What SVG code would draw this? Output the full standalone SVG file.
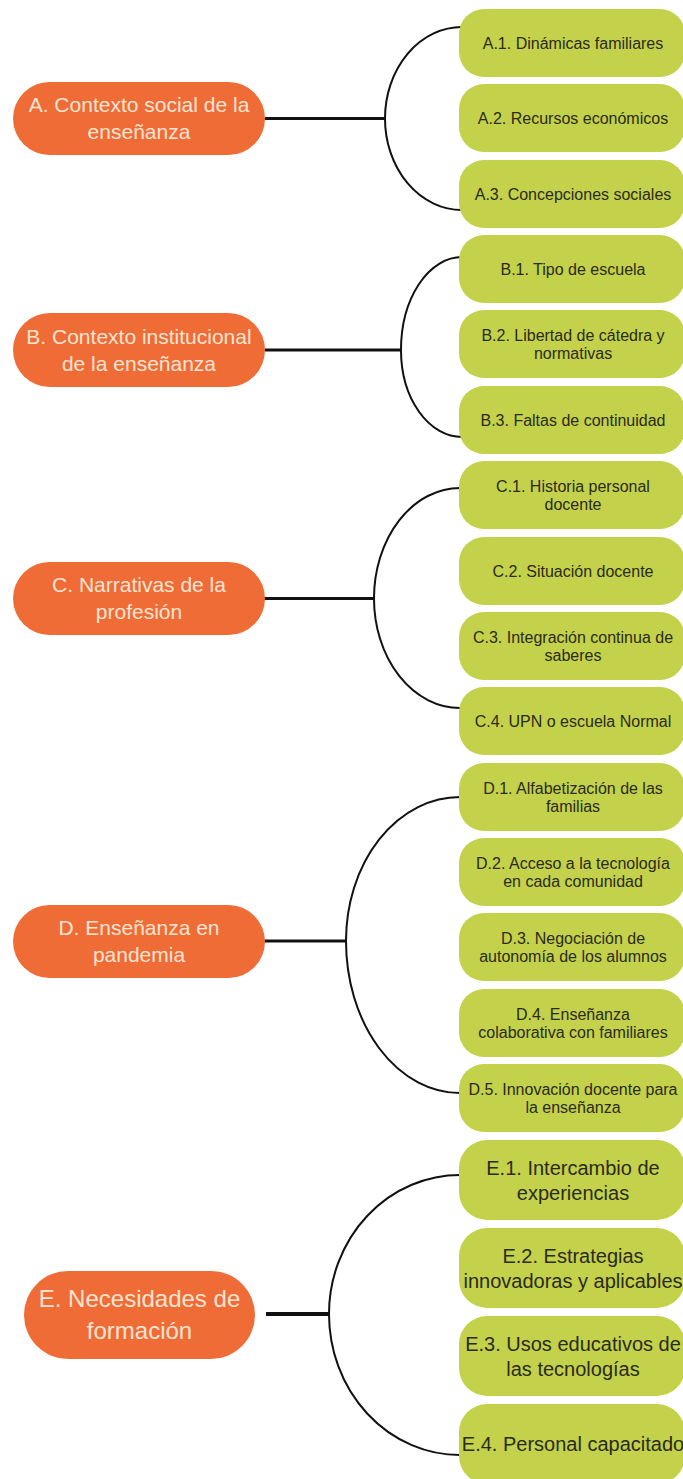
<svg xmlns="http://www.w3.org/2000/svg" width="683" height="1479" viewBox="0 0 683 1479">
<style>
.main rect{fill:#ef6c36}
.main text{fill:#fde4d3;font-family:"Liberation Sans",Arial,sans-serif;font-size:21px;text-anchor:middle}
.main.big text{font-size:24px}
.sub rect{fill:#c4d14a}
.sub text{fill:#2b2b1c;font-family:"Liberation Sans",Arial,sans-serif;font-size:16px;text-anchor:middle}
.sub.big text{font-size:20px}
.arc{fill:none;stroke:#111;stroke-width:2}
.bar{fill:none;stroke:#111;stroke-width:3}
</style>
<rect width="683" height="1479" fill="#ffffff"/>
<g id="connectors">
<path class="bar" d="M265 118.5H385"/>
<path class="arc" d="M462 27A77 91.5 0 0 0 385 118.5A77 91.5 0 0 0 462 210"/>
<path class="bar" d="M265 350H401"/>
<path class="arc" d="M462 257A61 93 0 0 0 401 350A61 87 0 0 0 462 437"/>
<path class="bar" d="M264 598.5H374"/>
<path class="arc" d="M460 488A86 110.5 0 0 0 374 598.5A86 109.5 0 0 0 460 708"/>
<path class="bar" d="M264 941H346"/>
<path class="arc" d="M460 797A114 144 0 0 0 346 941A114 152 0 0 0 460 1093"/>
<path class="bar" d="M266 1314H329" style="stroke-width:4"/>
<path class="arc" d="M460 1175A131 139 0 0 0 329 1314A131 141 0 0 0 460 1455"/>
</g>
<g id="A" class="main"><rect x="13" y="82" width="252" height="73" rx="36.5"/><text x="139" y="112.4">A. Contexto social de la</text><text x="139" y="139.4">enseñanza</text></g>
<g id="B" class="main"><rect x="13" y="313" width="252" height="74" rx="37"/><text x="139" y="343.9">B. Contexto institucional</text><text x="139" y="370.9">de la enseñanza</text></g>
<g id="C" class="main"><rect x="13" y="562" width="252" height="73" rx="36.5"/><text x="139" y="592.4">C. Narrativas de la</text><text x="139" y="619.4">profesión</text></g>
<g id="D" class="main"><rect x="13" y="905" width="252" height="73" rx="36.5"/><text x="139" y="935.4">D. Enseñanza en</text><text x="139" y="962.4">pandemia</text></g>
<g id="E" class="main big"><rect x="24" y="1271" width="231" height="88" rx="44"/><text x="139.5" y="1307.4">E. Necesidades de</text><text x="139.5" y="1339.4">formación</text></g>

<g id="A1" class="sub"><rect x="459" y="9" width="226" height="68" rx="25"/><text x="573" y="48.6">A.1. Dinámicas familiares</text></g>
<g id="A2" class="sub"><rect x="459" y="84" width="226" height="68" rx="25"/><text x="573" y="123.6">A.2. Recursos económicos</text></g>
<g id="A3" class="sub"><rect x="459" y="160" width="226" height="68" rx="25"/><text x="573" y="199.6">A.3. Concepciones sociales</text></g>
<g id="B1" class="sub"><rect x="459" y="235" width="226" height="68" rx="25"/><text x="573" y="274.6">B.1. Tipo de escuela</text></g>
<g id="B2" class="sub"><rect x="459" y="310" width="226" height="68" rx="25"/><text x="573" y="340.6">B.2. Libertad de cátedra y</text><text x="573" y="358.6">normativas</text></g>
<g id="B3" class="sub"><rect x="459" y="386" width="226" height="68" rx="25"/><text x="573" y="425.6">B.3. Faltas de continuidad</text></g>
<g id="C1" class="sub"><rect x="459" y="461" width="226" height="68" rx="25"/><text x="573" y="491.6">C.1. Historia personal</text><text x="573" y="509.6">docente</text></g>
<g id="C2" class="sub"><rect x="459" y="537" width="226" height="68" rx="25"/><text x="573" y="576.6">C.2. Situación docente</text></g>
<g id="C3" class="sub"><rect x="459" y="612" width="226" height="68" rx="25"/><text x="573" y="642.6">C.3. Integración continua de</text><text x="573" y="660.6">saberes</text></g>
<g id="C4" class="sub"><rect x="459" y="687" width="226" height="68" rx="25"/><text x="573" y="726.6">C.4. UPN o escuela Normal</text></g>
<g id="D1" class="sub"><rect x="459" y="763" width="226" height="68" rx="25"/><text x="573" y="793.6">D.1. Alfabetización de las</text><text x="573" y="811.6">familias</text></g>
<g id="D2" class="sub"><rect x="459" y="838" width="226" height="68" rx="25"/><text x="573" y="868.6">D.2. Acceso a la tecnología</text><text x="573" y="886.6">en cada comunidad</text></g>
<g id="D3" class="sub"><rect x="459" y="913" width="226" height="68" rx="25"/><text x="573" y="943.6">D.3. Negociación de</text><text x="573" y="961.6">autonomía de los alumnos</text></g>
<g id="D4" class="sub"><rect x="459" y="989" width="226" height="68" rx="25"/><text x="573" y="1019.6">D.4. Enseñanza</text><text x="573" y="1037.6">colaborativa con familiares</text></g>
<g id="D5" class="sub"><rect x="459" y="1064" width="226" height="68" rx="25"/><text x="573" y="1094.6">D.5. Innovación docente para</text><text x="573" y="1112.6">la enseñanza</text></g>
<g id="E1" class="sub big"><rect x="459" y="1140" width="226" height="80" rx="28"/><text x="573" y="1174.5">E.1. Intercambio de</text><text x="573" y="1199.5">experiencias</text></g>
<g id="E2" class="sub big"><rect x="459" y="1228" width="226" height="80" rx="28"/><text x="573" y="1262.5">E.2. Estrategias</text><text x="573" y="1287.5">innovadoras y aplicables</text></g>
<g id="E3" class="sub big"><rect x="459" y="1316" width="226" height="80" rx="28"/><text x="573" y="1350.5">E.3. Usos educativos de</text><text x="573" y="1375.5">las tecnologías</text></g>
<g id="E4" class="sub big"><rect x="459" y="1404" width="226" height="80" rx="28"/><text x="573" y="1451">E.4. Personal capacitado</text></g>
</svg>
